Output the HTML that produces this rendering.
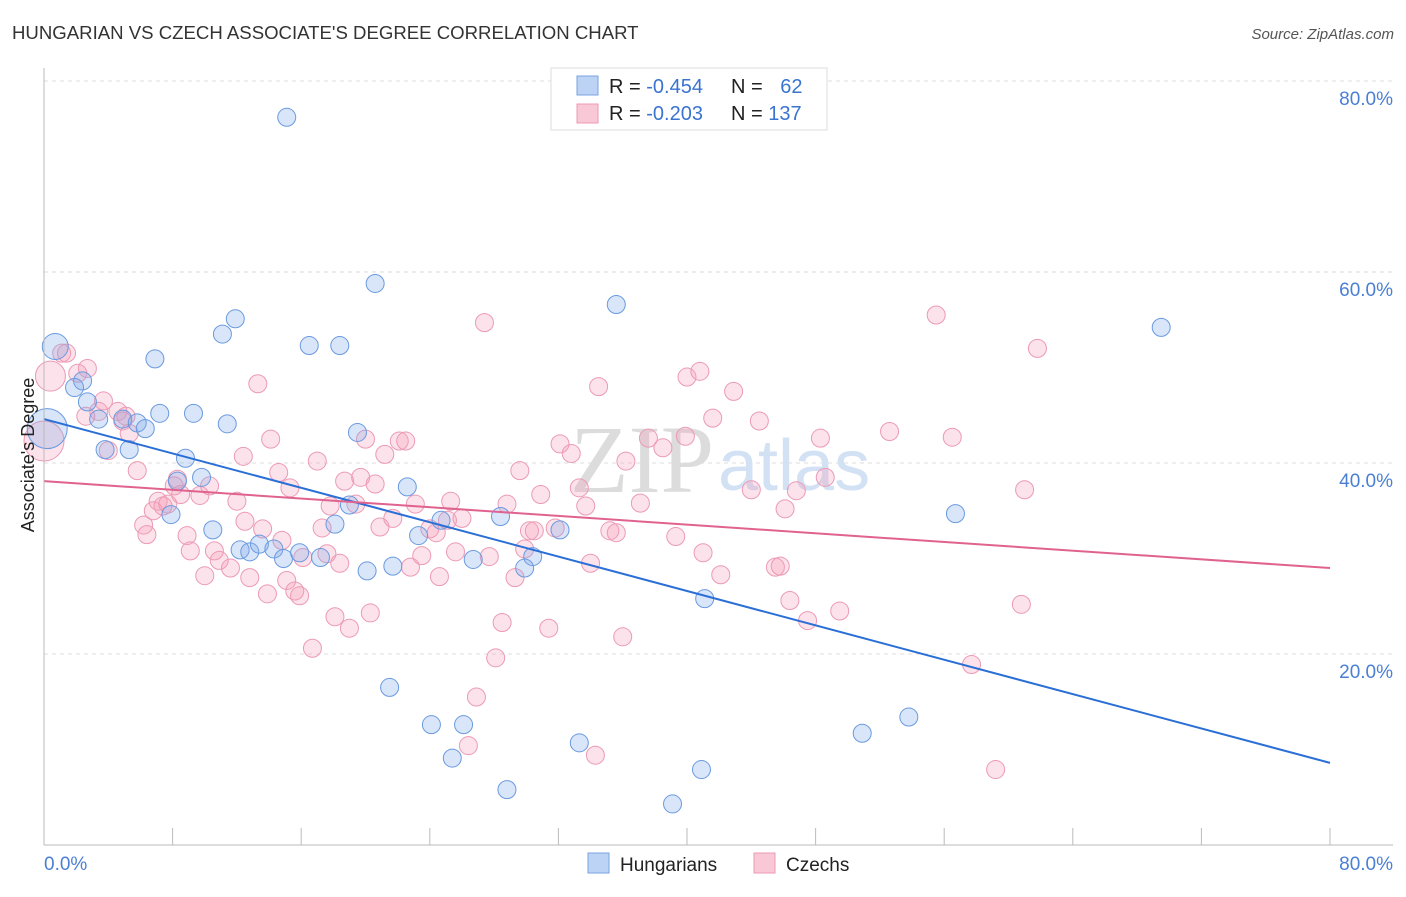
<!DOCTYPE html>
<html><head><meta charset="utf-8"><style>
body{margin:0;background:#fff;font-family:"Liberation Sans",sans-serif;}
</style></head><body>
<svg width="1406" height="892" xmlns="http://www.w3.org/2000/svg" style="font-family:'Liberation Sans',sans-serif">
<text x="12" y="39" font-size="18.6" fill="#333">HUNGARIAN VS CZECH ASSOCIATE'S DEGREE CORRELATION CHART</text>
<text x="1394" y="39" font-size="15" fill="#555" font-style="italic" text-anchor="end">Source: ZipAtlas.com</text>
<g id="grid"></g>
<text x="714" y="492" font-size="96" fill="#dcdcdc" font-family="'Liberation Serif',serif" text-anchor="end">ZIP</text>
<text x="718" y="490" font-size="72" fill="#d3e1f5">atlas</text>
<g id="pts"></g>
<g id="lines"></g>
<g id="axes"></g>
<text x="34" y="455" font-size="18" fill="#222" text-anchor="middle" transform="rotate(-90 34 455)">Associate's Degree</text>
<g>
<rect x="551" y="68" width="276" height="62" fill="#fff" stroke="#ddd"/>
<rect x="577" y="76" width="21" height="19" fill="#bcd3f5" stroke="#7aa3e0"/>
<rect x="577" y="104" width="21" height="19" fill="#f9c8d6" stroke="#ec9ab3"/>
<text x="609" y="93" font-size="20" fill="#222">R = <tspan fill="#3a74d0">-0.454</tspan></text>
<text x="731" y="93" font-size="20" fill="#222">N = <tspan fill="#3a74d0" dx="12">62</tspan></text>
<text x="609" y="120" font-size="20" fill="#222">R = <tspan fill="#3a74d0">-0.203</tspan></text>
<text x="731" y="120" font-size="20" fill="#222">N = <tspan fill="#3a74d0">137</tspan></text>
</g>
<g>
<rect x="588" y="853" width="21" height="20" fill="#bcd3f5" stroke="#7aa3e0"/>
<text x="620" y="871" font-size="19" fill="#222">Hungarians</text>
<rect x="754" y="853" width="21" height="20" fill="#f9c8d6" stroke="#ec9ab3"/>
<text x="786" y="871" font-size="19" fill="#222">Czechs</text>
</g>
</svg>
<script>
const yTicks=[20,40,60,80];
const yTickLabels=["20.0%","40.0%","60.0%","80.0%"];
const xTickCount=10;
const xLabels=["0.0%","80.0%"];
const hunX=[15.1,20.6,35.6,69.5,11.9,11.1,16.5,18.4,0.7,6.9,2.4,1.9,2.7,7.2,9.3,3.4,4.9,5.8,6.3,11.4,19.5,3.8,5.3,8.8,9.8,8.3,7.9,22.6,19.0,18.1,24.7,28.4,32.1,10.5,23.3,12.2,12.8,13.4,14.3,14.9,15.9,17.2,30.4,26.7,29.9,20.1,21.7,41.1,56.7,21.5,24.1,26.1,25.4,33.3,28.8,40.9,39.1,50.9,53.8,0.2];
const hunY=[76.2,58.8,56.6,54.2,55.1,53.5,52.3,52.3,52.2,50.9,48.6,47.9,46.4,45.2,45.2,44.6,44.6,44.2,43.6,44.1,43.2,41.4,41.4,40.5,38.5,38.1,34.6,37.5,35.6,33.6,34.0,34.4,33.0,33.0,32.4,30.9,30.7,31.5,31.0,30.0,30.6,30.1,30.2,29.9,29.0,28.7,29.2,25.8,34.7,16.5,12.6,12.6,9.1,10.7,5.8,7.9,4.3,11.7,13.4,43.6];
const hunR=[9,9,9,9,9,9,9,9,13,9,9,9,9,9,9,9,9,9,9,9,9,9,9,9,9,9,9,9,9,9,9,9,9,9,9,9,9,9,9,9,9,9,9,9,9,9,9,9,9,9,9,9,9,9,9,9,9,9,9,20];
const czX=[1.1,1.4,2.7,2.1,0.4,0.0,3.4,3.7,2.6,4.6,5.1,4.9,5.3,4.0,5.8,6.2,6.4,6.8,7.1,7.4,7.7,8.3,8.5,8.1,8.9,9.1,9.7,10.0,10.3,10.6,10.9,11.6,12.0,12.4,12.5,12.8,13.3,13.6,13.9,14.1,14.6,14.8,15.1,15.3,15.6,15.9,16.1,16.7,17.0,17.3,17.6,17.8,18.1,18.4,18.7,19.0,19.4,19.7,20.0,20.3,20.6,20.9,21.2,21.7,22.1,22.5,22.8,23.1,23.5,24.0,24.4,24.6,25.1,25.3,25.6,26.0,26.4,26.9,27.4,27.7,28.1,28.5,28.8,29.3,29.6,29.9,30.2,30.5,30.9,31.4,31.8,32.1,32.8,33.3,33.7,34.0,34.3,34.5,35.2,35.6,36.0,36.2,37.1,37.6,38.5,39.3,39.9,40.0,40.8,41.0,41.6,42.1,42.9,44.5,45.5,45.8,46.1,46.4,46.8,47.5,48.3,48.6,49.5,52.6,55.5,56.5,57.7,59.2,60.8,61.0,61.8,44.0];
const czY=[51.5,51.5,49.9,49.4,49.1,42.3,45.4,46.5,44.9,45.4,44.9,44.4,43.1,41.3,39.2,33.5,32.5,35.0,36.0,35.5,35.7,38.3,36.7,37.6,32.4,30.8,36.6,28.2,37.6,30.8,29.8,29.0,36.0,40.7,33.9,28.0,48.3,33.1,26.3,42.5,39.0,31.9,27.7,37.4,26.6,26.1,30.1,20.6,40.2,33.2,30.5,35.5,23.9,29.5,38.1,22.7,35.7,38.5,42.5,24.3,37.8,33.3,40.9,34.2,42.3,42.3,29.1,35.7,30.3,33.1,32.7,28.1,34.0,36.0,30.7,34.2,10.4,15.5,54.7,30.2,19.6,23.3,35.7,28.0,39.2,31.0,32.9,32.9,36.7,22.7,33.2,42.0,41.0,37.4,35.5,29.5,9.4,48.0,32.9,32.7,21.8,40.2,35.8,42.6,41.6,32.3,42.8,49.0,49.6,30.6,44.7,28.3,47.5,44.4,29.1,29.2,35.2,25.6,37.1,23.5,42.6,38.5,24.5,43.3,55.5,42.7,18.9,7.9,25.2,37.2,52.0,37.2];
const czBig={4:15,5:20};
const hunTrend=[44.6,8.6];
const czTrend=[38.1,29.0];
const X0=44,X1=1330,Y0=845,PX=(X1-X0)/80,PY=(845-81)/80;
const sx=v=>X0+v*PX, sy=v=>Y0-v*PY;
const NS="http://www.w3.org/2000/svg";
function mk(t,a,p){const e=document.createElementNS(NS,t);for(const k in a)e.setAttribute(k,a[k]);p.appendChild(e);return e;}
const grid=document.getElementById('grid'),axes=document.getElementById('axes'),pts=document.getElementById('pts'),lines=document.getElementById('lines');
yTicks.forEach((t,i)=>{
 const l=mk('line',{x1:X0,x2:1393,y1:sy(t),y2:sy(t),stroke:'#ddd','stroke-dasharray':'4,4'},grid);
 
 
 const tx=mk('text',{x:1393,y:sy(t)+24,'font-size':19,fill:'#4a7fd4','text-anchor':'end'},axes);
 tx.textContent=yTickLabels[i];
 
 
});
const ax=mk('line',{x1:X0,x2:1393,y1:Y0,y2:Y0,stroke:'#bbb'},axes);


const ay=mk('line',{x1:X0,x2:X0,y1:68,y2:Y0,stroke:'#bbb'},axes);


for(let i=0;i<=xTickCount;i++){
 const tk=mk('line',{x1:sx(i*8),x2:sx(i*8),y1:828,y2:Y0,stroke:'#bbb'},axes);
 
 
}
const xl0=mk('text',{x:44,y:870,'font-size':19,fill:'#4a7fd4'},axes);xl0.textContent=xLabels[0];


const xl1=mk('text',{x:1393,y:870,'font-size':19,fill:'#4a7fd4','text-anchor':'end'},axes);xl1.textContent=xLabels[1];


czX.forEach((x,i)=>{
 const c=mk('circle',{cx:sx(x),cy:sy(czY[i]),r:czBig[i]||9,fill:'rgba(244,160,186,0.3)',stroke:'#ec9ab5','stroke-width':1},pts);
 
 
});
hunX.forEach((x,i)=>{
 const c=mk('circle',{cx:sx(x),cy:sy(hunY[i]),r:hunR[i],fill:'rgba(130,170,232,0.3)',stroke:'#6a9ae0','stroke-width':1},pts);
 
 
});
const lb=mk('line',{x1:sx(0),y1:sy(hunTrend[0]),x2:sx(80),y2:sy(hunTrend[1]),stroke:'#2a6fd6','stroke-width':2},lines);


const lp=mk('line',{x1:sx(0),y1:sy(czTrend[0]),x2:sx(80),y2:sy(czTrend[1]),stroke:'#e0628f','stroke-width':2},lines);


</script>
</body></html>
